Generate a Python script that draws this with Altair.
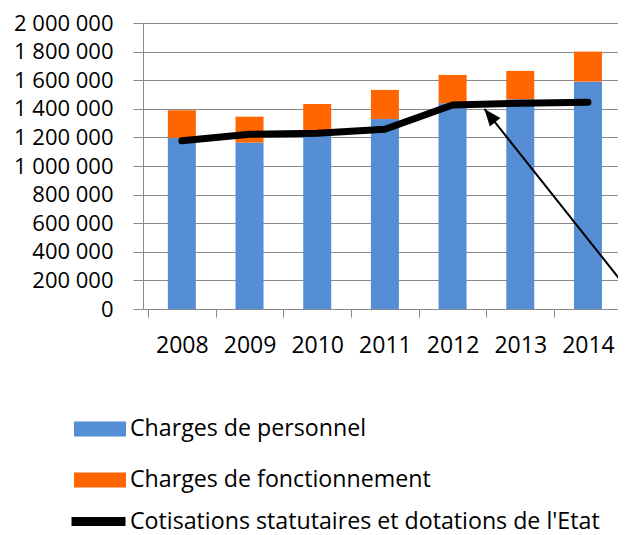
import altair as alt
import pandas as pd

years = [2008, 2009, 2010, 2011, 2012, 2013, 2014]
personnel = [1195000, 1164000, 1215000, 1329000, 1439000, 1467000, 1590000]
fonctionnement = [195000, 181000, 219000, 203000, 198000, 198000, 210000]
cotisations = [1176000, 1222000, 1229000, 1257000, 1427000, 1439000, 1446000]

s_pers = "Charges de personnel"
s_fonc = "Charges de fonctionnement"
s_cot = "Cotisations statutaires et dotations de l'Etat"

# annotation arrow (tail beyond right edge, head pointing at the line)
arrow_x = [2014.5, 2012.47]
arrow_y = [190000, 1399000]

y_ticks = list(range(0, 2000001, 200000))
x_tick_pos = [y - 0.5 for y in years]

FONT = "Open Sans"
GRID = "#8a8a8a"
X_FS = 23
Y_FS = 22
LG_FS = 23.2

bars_df = pd.DataFrame({
    "year": years * 2,
    "value": personnel + fonctionnement,
    "serie": [s_pers] * len(years) + [s_fonc] * len(years),
    "ord": [0] * len(years) + [1] * len(years),
})
line_df = pd.DataFrame({"year": years, "value": cotisations, "serie": [s_cot] * len(years)})
arrow_df = pd.DataFrame({"x": arrow_x, "y": arrow_y})
head_df = pd.DataFrame({"x": [arrow_x[-1]], "y": [arrow_y[-1]]})

# the original picture is cropped on the right, just before the end of the 2014 category
x_scale = alt.Scale(domain=[2007.5, 2014.37], nice=False, zero=False)
y_scale = alt.Scale(domain=[0, 2000000], nice=False)

x_label_axis = alt.Axis(
    values=years, title=None, grid=False, format="d", orient="bottom",
    labelFont=FONT, labelFontSize=X_FS, labelColor="black",
    labelPadding=25, ticks=False, domainColor=GRID,
    labelOverlap=False, labelBound=False, labelFlush=False,
)
x_tick_axis = alt.Axis(
    values=x_tick_pos, title=None, grid=False, labels=False, orient="bottom",
    tickSize=8, tickColor=GRID, domain=False,
)
y_axis = alt.Axis(
    values=y_ticks, title=None, format=",.0f", tickCount=11,
    labelFont=FONT, labelFontSize=Y_FS, labelColor="black",
    labelPadding=20, tickSize=10, tickColor=GRID, domainColor=GRID,
    gridColor=GRID, gridWidth=1, labelOverlap=False,
)

bars = alt.Chart(bars_df).mark_bar(size=28).encode(
    x=alt.X("year:Q", scale=x_scale, axis=x_label_axis),
    y=alt.Y("value:Q", scale=y_scale, axis=y_axis, stack="zero"),
    fill=alt.Fill(
        "serie:N",
        scale=alt.Scale(domain=[s_pers, s_fonc], range=["#558ed5", "#ff6600"]),
        legend=alt.Legend(
            title=None, orient="none", legendX=-69, legendY=380,
            symbolType="M-1,-0.29H1V0.29H-1Z", symbolSize=2704, symbolStrokeWidth=0,
            labelFont=FONT, labelFontSize=LG_FS, labelColor="black",
            labelOffset=4, rowPadding=13, padding=0, labelLimit=600,
        ),
    ),
    order=alt.Order("ord:Q"),
)

line = alt.Chart(line_df).mark_line(strokeWidth=7, strokeCap="round", strokeJoin="round").encode(
    x=alt.X("year:Q", scale=x_scale, axis=None),
    y=alt.Y("value:Q", scale=y_scale, axis=y_axis),
    stroke=alt.Stroke(
        "serie:N",
        scale=alt.Scale(domain=[s_cot], range=["black"]),
        legend=alt.Legend(
            title=None, orient="none", legendX=-76, legendY=467,
            symbolType="stroke", symbolSize=2916, symbolStrokeWidth=9,
            labelFont=FONT, labelFontSize=LG_FS, labelColor="black",
            labelOffset=0, padding=0, labelLimit=600,
        ),
    ),
)

arrow = alt.Chart(arrow_df).mark_line(color="black", strokeWidth=2, clip=True).encode(
    x=alt.X("x:Q", scale=x_scale, axis=x_tick_axis),
    y=alt.Y("y:Q", scale=y_scale, axis=y_axis),
)

head = alt.Chart(head_df).mark_point(
    shape="M0,0L0.4,1L-0.4,1Z", filled=True, size=1156, angle=321,
    color="black", opacity=1, strokeWidth=0,
).encode(
    x=alt.X("x:Q", scale=x_scale, axis=None),
    y=alt.Y("y:Q", scale=y_scale, axis=y_axis),
)

chart = alt.layer(bars, line, arrow, head).resolve_axis(x="independent").properties(
    width=475, height=286,
    autosize=alt.AutoSizeParams(type="none"),
    padding={"left": 135, "top": 15, "right": 0, "bottom": 226},
).configure_view(stroke=None).configure(
    locale={"number": {"decimal": ",", "thousands": " ", "grouping": [3], "currency": ["", " €"]}}
)

chart.save("out.html", embed_options={"renderer": "svg", "actions": False})
